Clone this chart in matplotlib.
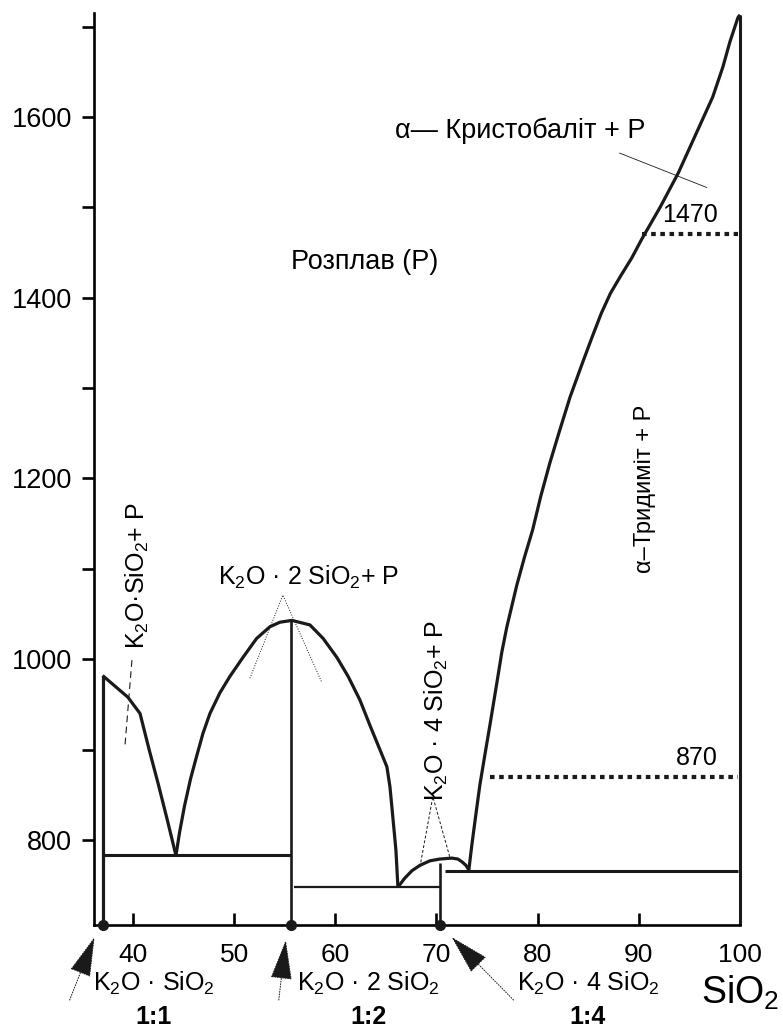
import matplotlib
matplotlib.use("Agg")
import matplotlib.pyplot as plt
from matplotlib.transforms import offset_copy

plt.rcParams['font.family'] = ['Liberation Sans', 'DejaVu Sans']
plt.rcParams['mathtext.fontset'] = 'custom'
plt.rcParams['mathtext.rm'] = 'Liberation Sans'
plt.rcParams['mathtext.it'] = 'Liberation Sans:italic'
plt.rcParams['mathtext.default'] = 'regular'

# liquidus branches (wt.% SiO2, deg C)
liq1_x = [37.0, 39.5, 40.7, 41.6, 42.5, 43.4, 44.25]
liq1_t = [982, 958, 940, 900, 862, 822, 783]

liq2_x = [44.25, 44.6, 45.1, 45.7, 46.3, 46.92, 47.61, 48.6, 49.58, 50.87, 52.22,
          53.54, 54.53, 55.71, 57.49, 58.8, 60.16, 61.27, 62.43, 63.42, 64.41, 65.1,
          65.4, 65.69, 65.99, 66.19]
liq2_t = [783, 808, 838, 868, 893, 918, 940, 963, 981, 1002, 1023,
          1036, 1041, 1043, 1038, 1023, 1002, 981, 955, 927, 900, 881,
          859, 825, 789, 748]

liq3_x = [66.19, 66.88, 67.57, 68.36, 69.35, 70.34, 71.52, 72.11, 72.51, 72.91, 73.2]
liq3_t = [748, 758, 766, 772, 777, 779, 780, 779, 776, 772, 767]

liq4_x = [73.2, 73.5, 73.89, 74.29, 74.78, 75.28, 75.97, 76.46, 76.96, 77.94, 78.7, 79.5,
          80.3, 81.2, 82.2, 83.2, 84.4, 85.4, 86.3, 87.2, 88.2, 89.3, 90.3, 92.1, 93.9,
          95.6, 97.3, 98.3, 99.0, 99.8, 100.0]
liq4_t = [767, 795, 828, 861, 894, 927, 974, 1008, 1036, 1082, 1113, 1143,
          1180, 1217, 1254, 1290, 1327, 1357, 1383, 1405, 1424, 1444, 1465, 1500, 1538,
          1580, 1622, 1655, 1683, 1710, 1713]

# compounds K2O*SiO2, K2O*2SiO2, K2O*4SiO2 and SiO2
comp_x = [37.0, 55.6, 70.3, 100.0]
comp_top = [982, 1043, 775, 1713]
comp_lw = [2.3, 1.9, 1.9, 2.2]

# eutectic (solidus) lines
eut_t = [783, 748, 766]
eut_from = [37.0, 55.95, 70.8]
eut_to = [55.6, 70.3, 99.8]
eut_lw = [2.2, 1.6, 2.2]

# polymorphic transitions of SiO2
poly_t = [1470, 870]
poly_from = [90.3, 75.3]
poly_to = [99.8, 99.8]
poly_lbl = ['1470', '870']

x_ticks = [40, 50, 60, 70, 80, 90, 100]
y_ticks = [800, 900, 1000, 1100, 1200, 1300, 1400, 1500, 1600, 1700]
y_lbls = ['800', '', '1000', '', '1200', '', '1400', '', '1600', '']

FS = 18
INK = '#1a1a1a'

fig = plt.figure(figsize=(7.83, 10.28), dpi=100)
ax = fig.add_axes([94 / 783, 1 - 925 / 1028, (740 - 94) / 783, (925 - 13) / 1028])
ax.set_xlim(36.15, 100)
ax.set_ylim(706, 1715)

for s in ['top', 'right']:
    ax.spines[s].set_visible(False)
ax.spines['left'].set_linewidth(1.9)
ax.spines['bottom'].set_linewidth(1.9)

ax.set_xticks(x_ticks)
ax.set_xticklabels([str(v) for v in x_ticks])
ax.set_yticks(y_ticks)
ax.set_yticklabels(y_lbls)
ax.tick_params(axis='x', direction='in', length=9, width=1.9, pad=13, labelsize=19)
ax.tick_params(axis='y', direction='out', length=9, width=1.9, pad=7, labelsize=19.5)

k = dict(color=INK, solid_capstyle='butt', solid_joinstyle='round', clip_on=False)
for xs, ts in [(liq1_x, liq1_t), (liq2_x, liq2_t), (liq3_x, liq3_t), (liq4_x, liq4_t)]:
    ax.plot(xs, ts, lw=2.3, **k)

for cx, ct, lw in zip(comp_x, comp_top, comp_lw):
    ax.plot([cx, cx], [706, ct], lw=lw, **k)

for t, a, b, lw in zip(eut_t, eut_from, eut_to, eut_lw):
    ax.plot([a, b], [t, t], lw=lw, **k)

for t, a, b, lbl in zip(poly_t, poly_from, poly_to, poly_lbl):
    ax.plot([a, b], [t, t], lw=3, color=INK, linestyle=(0, (1.1, 1.1)), clip_on=False)
    ax.text(b - 2.0, t + 8, lbl, ha='right', va='bottom', fontsize=FS)

ax.plot(comp_x[:3], [706] * 3, 'o', ms=7, color=INK, clip_on=False, zorder=5)

# field labels
ax.text(62.9, 1439, 'Розплав (Р)', ha='center', va='center', fontsize=19.5)
ax.text(65.9, 1585, 'α— Кристобаліт + Р', ha='left', va='center', fontsize=19.5)
ax.plot([88.1, 96.7], [1560, 1522], lw=0.6, color=INK)
ax.text(90.6, 1188, 'α–Тридиміт + Р', rotation=90, ha='center', va='center', fontsize=17)

ax.text(40.4, 1092, 'K$_2$O·SiO$_2$+ P', rotation=90, ha='center', va='center', fontsize=FS)
ax.plot([39.9, 39.2], [999, 903], lw=0.8, color=INK, linestyle=(0, (6, 4)))

ax.text(48.4, 1091, 'K$_2$O · 2 SiO$_2$+ P', ha='left', va='center', fontsize=FS)
ax.plot([51.56, 54.82, 58.68], [979, 1071, 974], lw=0.7, color=INK, linestyle=':')

ax.text(70.0, 943, 'K$_2$O · 4 SiO$_2$+ P', rotation=90, ha='center', va='center', fontsize=FS)
ax.plot([68.36, 69.64, 71.32], [770, 848, 781], lw=0.7, color=INK, linestyle=(0, (3, 2)))

# compounds under the axis
xt = ax.get_xaxis_transform()
names = ['K$_2$O · SiO$_2$', 'K$_2$O · 2 SiO$_2$', 'K$_2$O · 4 SiO$_2$']
ratios = ['1:1', '1:2', '1:4']
name_x = [42.07, 63.3, 84.96]
for nx, nm, r in zip(name_x, names, ratios):
    ax.text(nx, -0.0724, nm, transform=xt, ha='center', va='baseline', fontsize=FS)
    ax.text(nx, -0.1085, r, transform=xt, ha='center', va='baseline', fontsize=FS,
            fontweight='bold')
ax.text(96.15, -0.0865, 'SiO$_2$', transform=xt, ha='left', va='baseline', fontsize=27)

# arrows pointing at compound compositions
tips = [(-8, -12), (-5, -15), (12, -12)]
tails = [(-33, -75), (-12, -75), (74, -75)]
for cx, tp, tl in zip(comp_x[:3], tips, tails):
    ax.annotate('', xy=(cx, 0), xycoords=offset_copy(xt, fig=fig, x=tp[0], y=tp[1], units='dots'),
                xytext=(cx, 0), textcoords=offset_copy(xt, fig=fig, x=tl[0], y=tl[1], units='dots'),
                arrowprops=dict(arrowstyle='-|>,head_length=1.3,head_width=0.35', mutation_scale=20,
                                color=INK, lw=0.7, linestyle=':', shrinkA=0, shrinkB=0),
                annotation_clip=False)

fig.savefig('out.png', dpi=100)
